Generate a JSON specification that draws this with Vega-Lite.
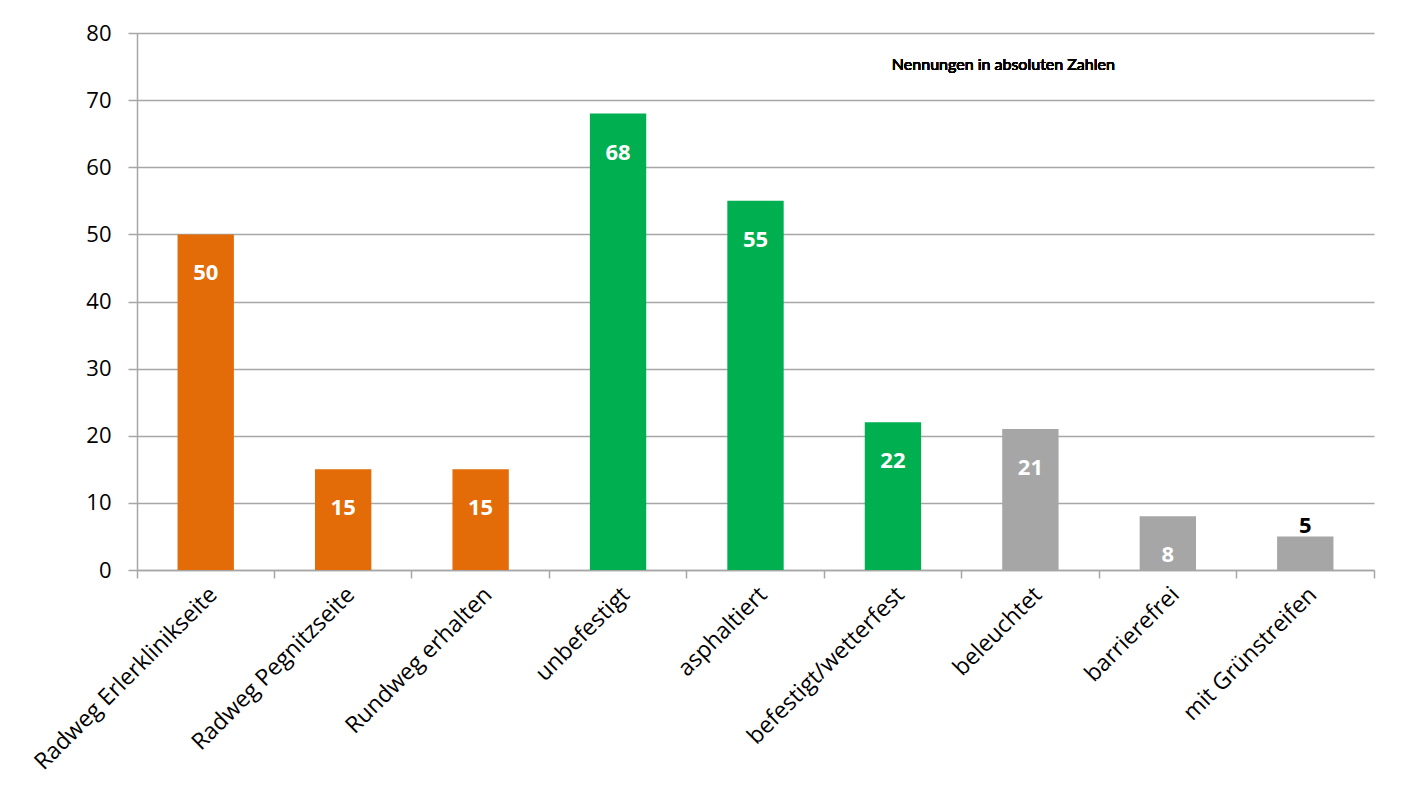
{
  "$schema": "https://vega.github.io/schema/vega-lite/v6.json",
  "width": 1237,
  "height": 537,
  "autosize": {"type": "none"},
  "padding": {"left": 137, "top": 33, "right": 32, "bottom": 230},
  "background": "white",
  "config": {
    "view": {"stroke": null},
    "font": "Open Sans",
    "axis": {"labelFont": "Open Sans", "labelColor": "#000000", "domainColor": "#a6a6a6", "tickColor": "#a6a6a6", "gridColor": "#a6a6a6", "domainWidth": 1.5, "tickWidth": 1.5, "gridWidth": 1.5}
  },
  "data": {
    "values": [
      {"kategorie": "Radweg Erlerklinikseite", "nennungen": 50, "gruppe": "Lage"},
      {"kategorie": "Radweg Pegnitzseite", "nennungen": 15, "gruppe": "Lage"},
      {"kategorie": "Rundweg erhalten", "nennungen": 15, "gruppe": "Lage"},
      {"kategorie": "unbefestigt", "nennungen": 68, "gruppe": "Belag"},
      {"kategorie": "asphaltiert", "nennungen": 55, "gruppe": "Belag"},
      {"kategorie": "befestigt/wetterfest", "nennungen": 22, "gruppe": "Belag"},
      {"kategorie": "beleuchtet", "nennungen": 21, "gruppe": "Ausstattung"},
      {"kategorie": "barrierefrei", "nennungen": 8, "gruppe": "Ausstattung"},
      {"kategorie": "mit Grünstreifen", "nennungen": 5, "gruppe": "Ausstattung"}
    ]
  },
  "encoding": {
    "x": {
      "field": "kategorie",
      "type": "nominal",
      "sort": null,
      "scale": {"paddingInner": 0, "paddingOuter": 0},
      "axis": {"title": null, "labelAngle": -45, "labelFontSize": 23, "labelPadding": 5, "labelLimit": 0, "tickSize": 8, "bandPosition": 1, "tickExtra": true, "labelBound": false, "labelOverlap": false}
    },
    "y": {
      "field": "nennungen",
      "type": "quantitative",
      "scale": {"domain": [0, 80], "nice": false},
      "axis": {"title": null, "values": [0, 10, 20, 30, 40, 50, 60, 70, 80], "labelFontSize": 22, "tickSize": 9, "labelPadding": 17}
    }
  },
  "layer": [
    {
      "mark": {"type": "bar", "width": {"band": 0.41}},
      "encoding": {
        "color": {"field": "gruppe", "type": "nominal", "scale": {"domain": ["Lage", "Belag", "Ausstattung"], "range": ["#E36C09", "#00B050", "#A6A6A6"]}, "legend": null}
      }
    },
    {
      "transform": [{"filter": "datum.nennungen > 5"}],
      "mark": {"type": "text", "baseline": "middle", "dy": 39, "fontWeight": "bold", "fontSize": 22, "color": "white"},
      "encoding": {"text": {"field": "nennungen", "type": "quantitative"}}
    },
    {
      "transform": [{"filter": "datum.nennungen <= 5"}],
      "mark": {"type": "text", "baseline": "bottom", "dy": 2, "fontWeight": "bold", "fontSize": 22, "color": "black"},
      "encoding": {"text": {"field": "nennungen", "type": "quantitative"}}
    },
    {
      "mark": {"type": "text", "text": "Nennungen in absoluten Zahlen", "font": "Lato", "fontSize": 16, "fontWeight": "normal", "color": "#000000", "dx": -27, "baseline": "middle"},
      "encoding": {
        "x": {"datum": "beleuchtet"},
        "y": {"datum": 75.3}
      }
    }
  ]
}
